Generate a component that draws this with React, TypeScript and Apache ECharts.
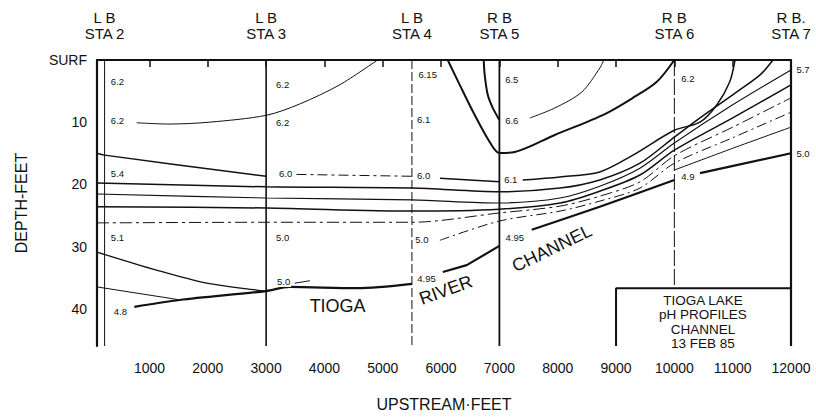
import React, { useEffect, useRef } from "react";
import * as echarts from "echarts";

// ---------- axes ----------
const xTickValues = [1000, 2000, 3000, 4000, 5000, 6000, 7000, 8000, 9000, 10000, 11000, 12000];
const depthTickValues = [0, 10, 20, 30, 40];
const depthTickLabels = ["SURF", "10", "20", "30", "40"];
const stationFt = [230, 3000, 5500, 7000, 10000, 12000];
const stationBottom = [46, 46, 46, 46, 36.7, 46];
const stationBank = ["L B", "L B", "L B", "R B", "R B", "R B."];
const stationName = ["STA 2", "STA 3", "STA 4", "STA 5", "STA 6", "STA 7"];

// ---------- contour lines  [upstream ft, depth ft] ----------
const ph62Upper = [[780, 10.1], [1340, 10.3], [2030, 10.0], [3000, 8.9], [3570, 7.1], [4260, 4.0], [4910, 0]];
const ph60Left = [[100, 15.0], [230, 15.3], [3000, 18.7]];
const ph60Mid = [[3520, 18.4], [5500, 18.7]];
const ph60Right = [[5980, 19.0], [7000, 19.6]];
const ph61 = [[7400, 19.3], [8040, 18.8], [8720, 18.0], [9290, 15.3], [10000, 11.3], [10440, 10.0], [10730, 7.2], [10950, 3.5], [11040, 0]];
const ph65 = [[6114, 0], [6320, 4.0], [6577, 8.85], [6834, 13.2], [7000, 14.96], [7263, 14.8], [7950, 12.06], [8808, 8.69], [9288, 6.1], [9700, 3.5], [10000, 0]];
const ph66Core = [[6731, 0], [6748, 2.4], [6800, 5.6], [6886, 7.7], [7000, 9.65]];
const ph66Tail = [[7521, 9.33], [7950, 7.72], [8413, 5.15], [8722, 1.29], [8790, 0]];
const band1 = [[100, 19.8], [3000, 20.4], [5500, 20.6], [7000, 21.2], [8040, 20.6], [8720, 19.3], [9410, 16.6], [10000, 12.4], [10440, 9.3], [11000, 5.6], [11470, 2.4], [11690, 0]];
const band2 = [[100, 21.55], [3000, 22.2], [5500, 22.5], [7000, 23.0], [8040, 22.2], [8720, 20.3], [9410, 17.4], [10000, 13.35], [11000, 7.2], [12000, 1.6]];
const band3 = [[100, 23.6], [3000, 23.8], [5500, 24.3], [7000, 24.0], [8040, 23.0], [8720, 21.1], [9410, 18.5], [10000, 14.5], [11000, 9.3], [12000, 4.0]];
const band4 = [[100, 26.2], [3000, 26.1], [5500, 26.1], [7000, 24.6], [8040, 23.5], [8720, 21.9], [9410, 19.6], [10000, 15.4], [11000, 10.8], [12000, 6.1]];
const ph50Channel = [[5980, 29.0], [7000, 25.9], [8040, 24.3], [8720, 22.7], [9410, 20.6], [10000, 16.6], [11000, 12.5], [12000, 8.4]];
const ph50Upper = [[10000, 17.7], [11000, 14.2], [12000, 10.8]];
const bottom1 = [[740, 39.7], [1515, 38.6], [3000, 37.16], [3400, 36.5], [4550, 36.7], [5500, 36.0]];
const bottom2 = [[6030, 34.1], [6440, 33.0], [7000, 29.9]];
const bottom3 = [[7555, 27.3], [8720, 23.6], [10000, 19.3]];
const bottom4 = [[10440, 18.2], [12000, 15.0]];
const ph51 = [[100, 30.9], [1120, 33.8], [1980, 35.9], [2840, 37.0], [3000, 37.16]];
const ph49Left = [[100, 36.5], [1400, 38.4], [1515, 38.6]];
const ph50Stub = [[3490, 35.9], [3750, 35.5]];
const legendBox = [[9000, 46], [9000, 36.7], [12000, 36.7]];

// ---------- value labels ----------
const valueLabelText = ["6.2", "6.2", "5.4", "5.1", "4.8", "6.2", "6.2", "6.0", "5.0", "5.0", "6.15", "6.1", "6.0", "5.0", "4.95", "6.5", "6.6", "6.1", "4.95", "6.2", "4.9", "5.7", "5.0"];
const valueLabelFt = [451, 451, 451, 451, 502, 3282, 3282, 3334, 3282, 3300, 5770, 5700, 5700, 5670, 5750, 7212, 7212, 7195, 7263, 10232, 10232, 12206, 12206];
const valueLabelDepth = [3.5, 9.8, 18.2, 28.5, 40.5, 3.9, 10.0, 18.3, 28.6, 35.7, 2.4, 9.65, 18.5, 28.8, 35.1, 3.2, 9.8, 19.3, 28.6, 2.9, 18.66, 1.6, 15.0];

const placeText = ["TIOGA", "RIVER", "CHANNEL"];
const placeFt = [4226, 6080, 7900];
const placeDepth = [39.6, 37.0, 30.3];
const placeAngle = [0, 20, 26];

const boxText = "TIOGA LAKE\npH PROFILES\nCHANNEL\n13 FEB 85";
const boxFt = 10490;
const boxDepth = 42.1;

const INK = "#111111";
const FONT = "'Liberation Sans', Arial, sans-serif";

function lineSeries(data: number[][], width: number, type: any = "solid", smooth: number = 0.3) {
  return {
    type: "line",
    data,
    showSymbol: false,
    smooth,
    silent: true,
    lineStyle: { color: INK, width, type },
    z: 3,
  };
}

function textSeries(data: any[], label: any) {
  return {
    type: "scatter",
    symbolSize: 0,
    clip: false,
    silent: true,
    z: 5,
    itemStyle: { color: INK, opacity: 1 },
    data,
    label: {
      show: true,
      position: "inside",
      formatter: "{b}",
      color: INK,
      opacity: 1,
      fontFamily: FONT,
      textBorderWidth: 0,
      textShadowBlur: 0,
      ...label,
    },
  };
}

export default function App() {
  const ref = useRef<HTMLDivElement>(null);
  useEffect(() => {
    if (!ref.current) return;
    const chart = echarts.init(ref.current, null, { renderer: "svg" });

    const stationStyles: any[] = [
      { width: 1, type: "solid" },
      { width: 1.6, type: "solid" },
      { width: 1, type: [9, 3] },
      { width: 1.8, type: "solid" },
      { width: 1, type: [16, 3] },
      { width: 2.2, type: "solid" },
    ];
    const stationSeries = stationFt.map((ft, i) =>
      lineSeries([[ft, 0], [ft, stationBottom[i]]], stationStyles[i].width, stationStyles[i].type, 0)
    );

    const contours = [
      lineSeries(ph62Upper, 1),
      lineSeries(ph60Left, 1.5),
      lineSeries(ph60Mid, 1, [10, 4, 3, 4], 0),
      lineSeries(ph60Right, 1.5),
      lineSeries(ph61, 1.5),
      lineSeries(ph65, 2),
      lineSeries(ph66Core, 2),
      lineSeries(ph66Tail, 1),
      lineSeries(band1, 1.5),
      lineSeries(band2, 1.1),
      lineSeries(band3, 1.5),
      lineSeries(band4, 1, [12, 4, 3, 4]),
      lineSeries(ph50Channel, 1, [10, 4, 2, 4]),
      lineSeries(ph50Upper, 1),
      lineSeries(bottom1, 2.2),
      lineSeries(bottom2, 2.2, "solid", 0),
      lineSeries(bottom3, 2.2),
      lineSeries(bottom4, 2.2, "solid", 0),
      lineSeries(ph51, 1.3),
      lineSeries(ph49Left, 1, "solid", 0),
      lineSeries(ph50Stub, 1, "solid", 0),
      lineSeries(legendBox, 2, "solid", 0),
    ];

    const valueLabels = textSeries(
      valueLabelText.map((t, i) => ({ name: t, value: [valueLabelFt[i], valueLabelDepth[i]] })),
      { fontSize: 9.5, backgroundColor: "#fff", padding: [0, 1] }
    );

    const placeLabels = textSeries(
      placeText.map((t, i) => ({
        name: t,
        value: [placeFt[i], placeDepth[i]],
        label: { rotate: placeAngle[i] },
      })),
      { fontSize: 18 }
    );

    const boxLabel = textSeries(
      [{ name: boxText, value: [boxFt, boxDepth] }],
      { fontSize: 13.5, lineHeight: 14.5, align: "center" }
    );

    chart.setOption({
      animation: false,
      backgroundColor: "#ffffff",
      textStyle: { fontFamily: FONT, color: INK },
      grid: { left: 97, right: 25, top: 60, height: 286 },
      xAxis: [
        {
          type: "value",
          min: 100,
          max: 12000,
          position: "bottom",
          axisLine: { show: true, lineStyle: { color: INK, width: 2 } },
          axisTick: { show: true, customValues: xTickValues, length: 7, lineStyle: { color: INK, width: 1.5 } },
          axisLabel: {
            show: true,
            customValues: xTickValues,
            margin: 15,
            fontSize: 14,
            color: INK,
            fontFamily: FONT,
            formatter: (v: number) => String(v),
          },
          splitLine: { show: false },
          name: "UPSTREAM·FEET",
          nameLocation: "middle",
          nameGap: 50,
          nameTextStyle: { fontSize: 16, color: INK, fontFamily: FONT },
        },
        {
          type: "value",
          min: 100,
          max: 12000,
          position: "top",
          axisLine: { show: true, lineStyle: { color: INK, width: 2 } },
          axisTick: { show: false },
          axisLabel: {
            show: true,
            customValues: stationFt,
            margin: 19,
            fontSize: 15,
            lineHeight: 16,
            color: INK,
            fontFamily: FONT,
            formatter: (v: number) => {
              const i = stationFt.indexOf(v);
              return i >= 0 ? stationBank[i] + "\n" + stationName[i] : "";
            },
          },
          splitLine: { show: false },
        },
      ],
      yAxis: {
        type: "value",
        inverse: true,
        min: 0,
        max: 46,
        axisLine: { show: true, lineStyle: { color: INK, width: 2.2 } },
        axisTick: { show: false },
        axisLabel: {
          show: true,
          customValues: depthTickValues,
          margin: 10,
          fontSize: 14,
          color: INK,
          fontFamily: FONT,
          formatter: (v: number) => {
            const i = depthTickValues.indexOf(v);
            return i >= 0 ? depthTickLabels[i] : "";
          },
        },
        splitLine: { show: false },
        name: "DEPTH-FEET",
        nameLocation: "middle",
        nameGap: 68,
        nameRotate: 90,
        nameTextStyle: { fontSize: 16, color: INK, fontFamily: FONT },
      },
      series: [...stationSeries, ...contours, valueLabels, placeLabels, boxLabel],
    });

    return () => chart.dispose();
  }, []);

  return (
    <div
      ref={ref}
      style={{ position: "fixed", left: 0, top: 0, width: 816, height: 419, background: "#fff" }}
    />
  );
}
